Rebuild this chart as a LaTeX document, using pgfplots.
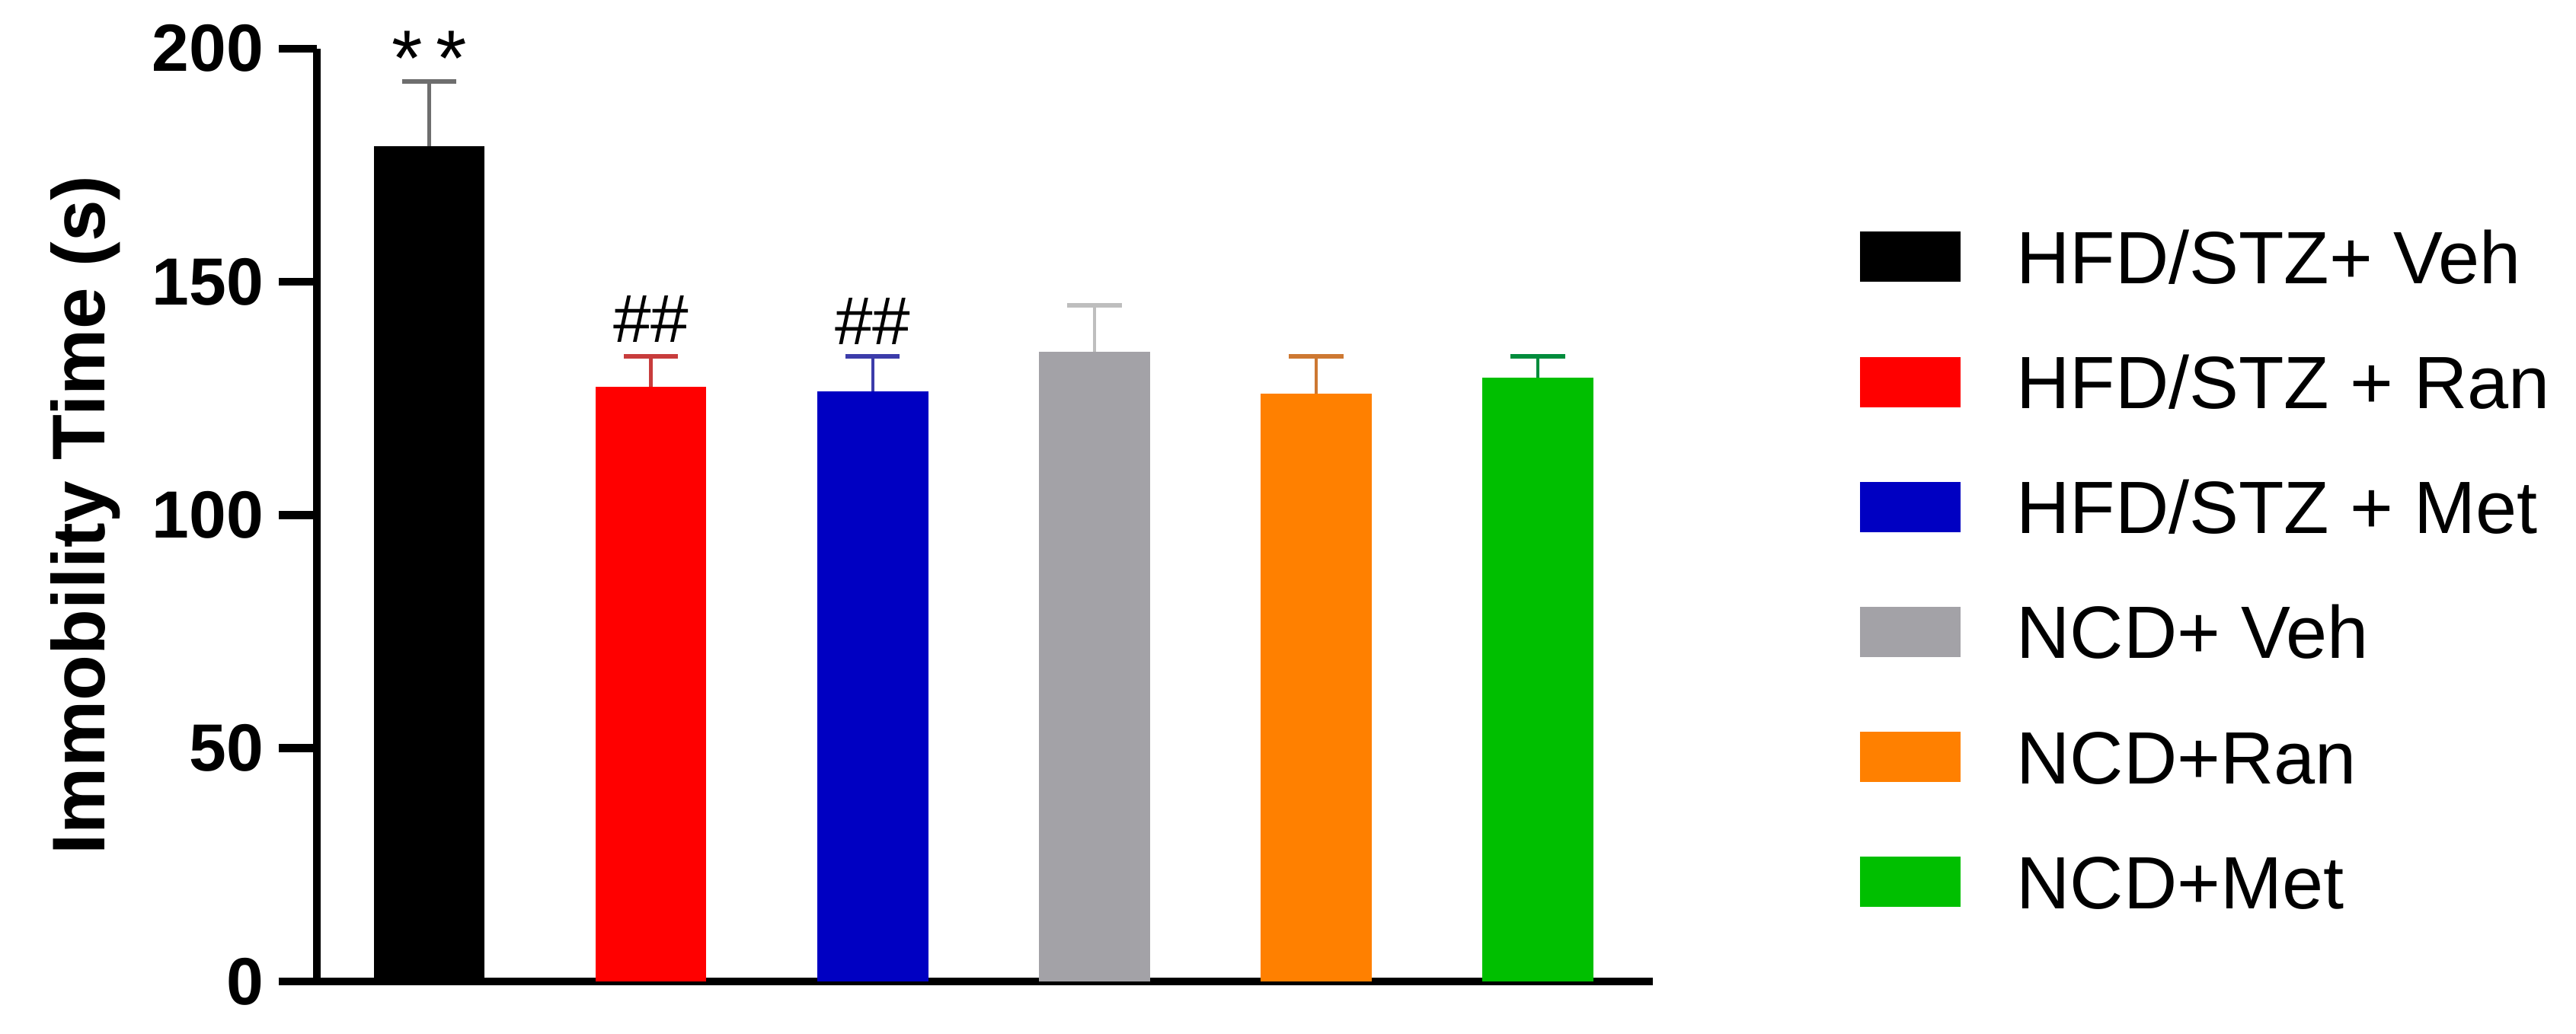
\documentclass[border=0pt]{standalone}
\usepackage{fontspec}
\setmainfont{Liberation Sans}
\usepackage{pgfplots}
\pgfplotsset{compat=1.18}

\definecolor{cRed}{RGB}{255,0,0}
\definecolor{cBlue}{RGB}{0,0,194}
\definecolor{cGray}{RGB}{163,162,167}
\definecolor{cOrange}{RGB}{255,128,0}
\definecolor{cGreen}{RGB}{0,191,0}
\definecolor{eBlack}{RGB}{110,110,110}
\definecolor{eRed}{RGB}{200,60,60}
\definecolor{eBlue}{RGB}{60,60,170}
\definecolor{eGray}{RGB}{190,190,190}
\definecolor{eOrange}{RGB}{205,120,50}
\definecolor{eGreen}{RGB}{0,140,60}

\pgfplotsset{
  sq/.style={legend image code/.code={\fill[##1] (0cm,-0.156cm) rectangle (0.624cm,0.156cm);}},
  errs/.style={error bars/.cd, y dir=plus, y explicit,
    error bar style={line width=0.6pt, color=#1},
    error mark options={rotate=90, line width=0.8pt, color=#1, mark size=0.169cm}},
}

\begin{document}
\begin{tikzpicture}
\useasboundingbox (-1.968,-0.322) rectangle (14.032,6.098);
\begin{axis}[
  scale only axis, width=8.296cm, height=5.796cm,
  ybar, bar width=0.5,
  xmin=-0.507, xmax=5.517, ymin=0, ymax=200,
  axis x line*=bottom, axis y line*=left,
  xtick=\empty, ytick={0,50,100,150,200},
  tick align=outside, major tick length=0.237cm,
  axis line style={line width=1.4pt},
  tick style={line width=1.4pt, black},
  /pgf/number format/assume math mode=true,
  yticklabel style={font=\bfseries\fontsize{11.8}{14}\selectfont, inner xsep=0pt, xshift=-2.5pt},
  ylabel={Immobility Time (s)},
  ylabel style={font=\bfseries\fontsize{13.2}{15}\selectfont, at={(axis description cs:-0.1588,0.5)}, anchor=base},
  clip=false,
  legend style={draw=none, fill=none, inner sep=0pt,
    at={(axis description cs:1.1543,0.8064)}, anchor=north west,
    row sep=12.7pt, column sep=0.35cm,
    font=\fontsize{13.1}{16}\selectfont,
    nodes={inner sep=0pt, text height=9.4pt, text depth=0pt}},
  legend cell align=left,
]
\addplot[fill=black, draw=none, bar shift=0pt, sq, errs=eBlack] coordinates {(0,179) +- (0,14)};
\addplot[fill=cRed, draw=none, bar shift=0pt, sq, errs=eRed] coordinates {(1,127.5) +- (0,6.5)};
\addplot[fill=cBlue, draw=none, bar shift=0pt, sq, errs=eBlue] coordinates {(2,126.5) +- (0,7.5)};
\addplot[fill=cGray, draw=none, bar shift=0pt, sq, errs=eGray] coordinates {(3,135) +- (0,10)};
\addplot[fill=cOrange, draw=none, bar shift=0pt, sq, errs=eOrange] coordinates {(4,126) +- (0,8)};
\addplot[fill=cGreen, draw=none, bar shift=0pt, sq, errs=eGreen] coordinates {(5,129.5) +- (0,4.5)};
\legend{HFD/STZ+ Veh, HFD/STZ + Ran, HFD/STZ + Met, NCD+ Veh, NCD+Ran, NCD+Met}
\node[font=\fontsize{14}{16}\selectfont, anchor=base] at (axis cs:0,192) {*\,*};
\node[font=\fontsize{12}{14}\selectfont, anchor=base] at (axis cs:1,137) {\#\#};
\node[font=\fontsize{12}{14}\selectfont, anchor=base] at (axis cs:2,136.5) {\#\#};
\end{axis}
\end{tikzpicture}
\end{document}
